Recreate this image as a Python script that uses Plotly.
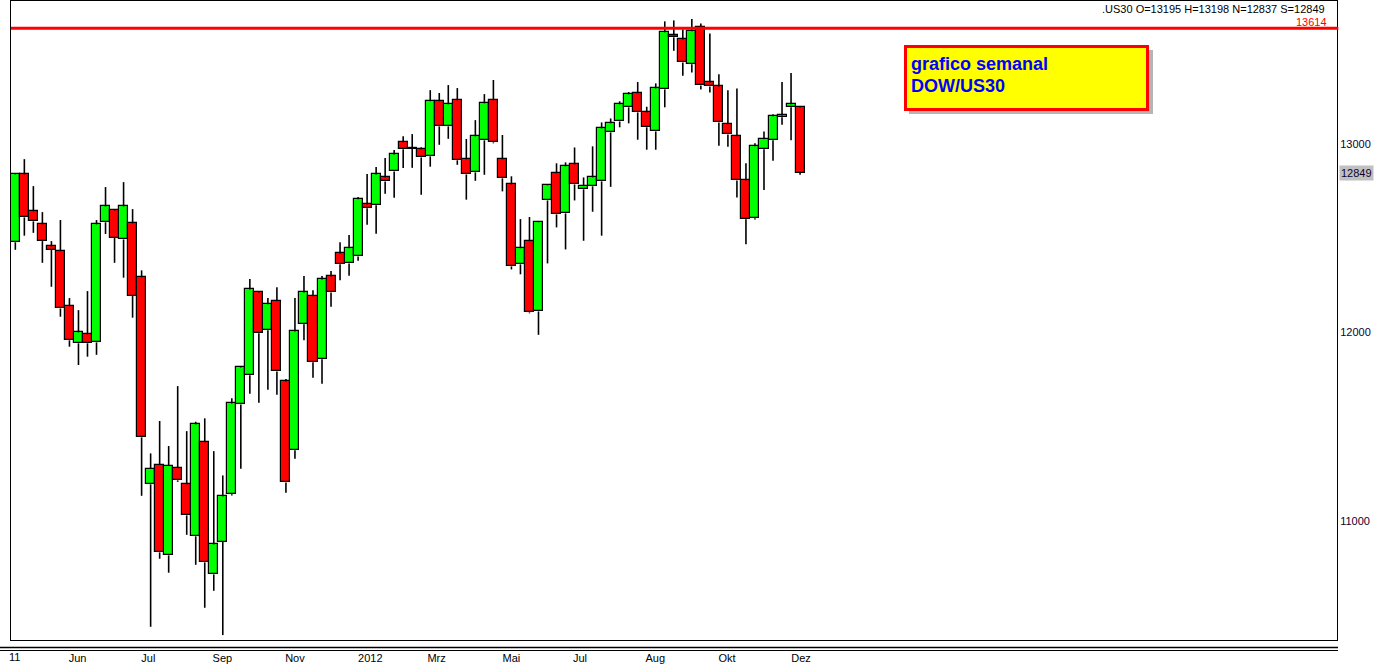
import plotly.graph_objects as go

# Weekly DOW/US30 candles (O, H, L, C)
opens = [12479, 12839, 12643, 12574, 12457, 12431, 12139, 11943, 11990, 11948,
         12585, 12648, 12494, 12579, 12293, 11195, 11299, 10818, 11283, 11195,
         10919, 11418, 10717, 10890, 11142, 11619, 11773, 12213, 12012, 12166,
         11741, 11375, 12044, 12192, 11858, 12298, 12420, 12367, 12404, 12680,
         12675, 12823, 12855, 13009, 12978, 12972, 12935, 13227, 13094, 13232,
         12919, 12850, 13020, 13232, 12919, 12786, 12362, 12484, 12112, 12701,
         12845, 12632, 12892, 12760, 12776, 12802, 13062, 13120, 13195, 13269,
         13168, 13067, 13290, 13577, 13555, 13423, 13620, 13327, 13306, 13105,
         13041, 12807, 12606, 12972, 13020, 13142, 13195, 13195]
highs = [12846, 12920, 12777, 12639, 12485, 12597, 12183, 12119, 12220, 12597,
         12772, 12655, 12798, 12655, 12330, 11359, 11531, 11398, 11716, 11477,
         11527, 11545, 11371, 11242, 11651, 11820, 12284, 12220, 12183, 12241,
         11753, 12183, 12300, 12224, 12300, 12326, 12479, 12517, 12719, 12841,
         12878, 12926, 12968, 13042, 13053, 12983, 13286, 13271, 13313, 13297,
         13027, 13127, 13265, 13340, 13048, 12829, 12602, 12613, 12590, 12785,
         12898, 12903, 12982, 12823, 12988, 13115, 13136, 13227, 13276, 13329,
         13198, 13322, 13651, 13656, 13608, 13663, 13640, 13587, 13370, 13285,
         13295, 12898, 13004, 13067, 13158, 13329, 13377, 13198]
lows = [12439, 12514, 12529, 12370, 12243, 12084, 11925, 11828, 11872, 11882,
        12523, 12370, 12291, 12079, 11134, 10439, 10800, 10726, 11208, 10927,
        10768, 10540, 10630, 10395, 11135, 11277, 11675, 11628, 11697, 11670,
        11150, 11330, 11959, 11760, 11728, 12137, 12278, 12301, 12381, 12572,
        12524, 12736, 12715, 12873, 12874, 12731, 12880, 12996, 13028, 12890,
        12705, 12805, 12837, 13004, 12749, 12335, 12309, 12102, 11988, 12367,
        12558, 12441, 12701, 12487, 12641, 12514, 12773, 13089, 13110, 13023,
        12970, 12970, 13195, 13495, 13362, 13380, 13290, 13274, 12991, 12986,
        12717, 12468, 12600, 12756, 12911, 13102, 13020, 12837]
closes = [12839, 12611, 12590, 12485, 12438, 12128, 11959, 12001, 11943, 12574,
          12669, 12503, 12669, 12194, 11444, 11277, 10834, 11293, 11216, 11030,
          11513, 10781, 10876, 11131, 11624, 11815, 12229, 11996, 12150, 11794,
          11205, 12006, 12213, 11842, 12282, 12213, 12362, 12447, 12707, 12659,
          12839, 12802, 12945, 12972, 12976, 12929, 13227, 13094, 13211, 12914,
          12839, 13041, 13216, 13009, 12818, 12351, 12447, 12107, 12585, 12781,
          12627, 12882, 12786, 12777, 12823, 13083, 13110, 13211, 13264, 13168,
          13089, 13295, 13593, 13566, 13433, 13598, 13311, 13306, 13115, 13051,
          12807, 12601, 12988, 13025, 13147, 13152, 13211, 12849]
week = list(range(len(opens)))

tick_weeks = [6.9, 14.75, 22.95, 31.0, 39.35, 46.7, 55.0, 62.6, 70.95, 78.9, 87.1]
tick_text = ["Jun", "Jul", "Sep", "Nov", "2012", "Mrz", "Mai", "Jul", "Aug", "Okt", "Dez"]
price_ticks = [11000, 12000, 13000]
resistance = 13614
header = ".US30 O=13195 H=13198 N=12837 S=12849"
last_close = closes[-1]
box_text = ["grafico semanal", "DOW/US30"]

W, H = 1377, 666
ML, MR, MT, MB = 11, 40, 1, 26
PW, PH = W - ML - MR, H - MT - MB


def px_x(px):
    return (px - ML) / PW


def px_y(py):
    return (MT + PH - py) / PH


fig = go.Figure()

# wicks (drawn as segments outside the bodies)
wx, wy = [], []
for i, o, h, l, c in zip(week, opens, highs, lows, closes):
    top, bot = max(o, c), min(o, c)
    wx += [i, i, None, i, i, None]
    wy += [top, h, None, bot, l, None]
fig.add_trace(go.Scatter(x=wx, y=wy, mode="lines", line=dict(color="black", width=1.6),
                         hoverinfo="skip", showlegend=False))

up = [i for i in week if closes[i] >= opens[i]]
dn = [i for i in week if closes[i] < opens[i]]
for idx, col in ((up, "#00ff00"), (dn, "#ff0000")):
    fig.add_trace(go.Bar(
        x=[week[i] for i in idx],
        base=[min(opens[i], closes[i]) for i in idx],
        y=[max(abs(closes[i] - opens[i]), 2) for i in idx],
        width=1.0,
        marker=dict(color=col, line=dict(color="black", width=1.2)),
        showlegend=False, hoverinfo="skip"))

font_main = "Liberation Sans, Arial, sans-serif"

shapes = [
    # resistance line
    dict(type="line", xref="paper", yref="y", x0=0, x1=1.001, y0=resistance, y1=resistance,
         line=dict(color="#ff0000", width=3)),
    # double line under plot
    dict(type="line", xref="paper", yref="paper", x0=px_x(0), x1=px_x(1338),
         y0=px_y(647.5), y1=px_y(647.5), line=dict(color="black", width=1.5)),
    dict(type="line", xref="paper", yref="paper", x0=px_x(0), x1=px_x(1338),
         y0=px_y(650.5), y1=px_y(650.5), line=dict(color="black", width=1)),
    # label box shadow and box
    dict(type="rect", xref="paper", yref="paper", x0=px_x(909), x1=px_x(1153),
         y0=px_y(50), y1=px_y(114), fillcolor="rgba(120,120,120,0.55)", line=dict(width=0)),
    dict(type="rect", xref="paper", yref="paper", x0=px_x(905.5), x1=px_x(1147.5),
         y0=px_y(46.5), y1=px_y(109.5), fillcolor="#ffff00", line=dict(color="#ff0000", width=3)),
]

annotations = [
    dict(text=header, xref="paper", yref="paper", x=px_x(1327), y=px_y(9.5),
         xanchor="right", yanchor="middle", showarrow=False,
         font=dict(family=font_main, size=11, color="black")),
    dict(text=str(resistance), xref="paper", yref="paper", x=px_x(1329), y=px_y(22),
         xanchor="right", yanchor="middle", showarrow=False,
         font=dict(family=font_main, size=11, color="#ff0000")),
    dict(text=str(last_close), xref="paper", yref="y", x=px_x(1339), y=last_close,
         xanchor="left", yanchor="middle", showarrow=False, bgcolor="#c0c0c0", borderpad=1,
         font=dict(family=font_main, size=11, color="#100030")),
    dict(text="11", xref="paper", yref="paper", x=px_x(7), y=px_y(657),
         xanchor="left", yanchor="middle", showarrow=False,
         font=dict(family=font_main, size=11, color="black")),
    dict(text="<b>%s</b>" % box_text[0], xref="paper", yref="paper", x=px_x(909), y=px_y(64),
         xanchor="left", yanchor="middle", showarrow=False,
         font=dict(family=font_main, size=18, color="#0000ff")),
    dict(text="<b>%s</b>" % box_text[1], xref="paper", yref="paper", x=px_x(909), y=px_y(86),
         xanchor="left", yanchor="middle", showarrow=False,
         font=dict(family=font_main, size=18, color="#0000ff")),
]

fig.update_layout(
    width=W, height=H,
    margin=dict(l=ML, r=MR, t=MT, b=MB, pad=0),
    paper_bgcolor="white", plot_bgcolor="white",
    barmode="overlay", bargap=0,
    showlegend=False,
    shapes=shapes, annotations=annotations,
    xaxis=dict(range=[-0.48, -0.48 + PW / 9.02], showgrid=False, zeroline=False,
               showline=True, mirror=True, linecolor="black", linewidth=1,
               tickmode="array", tickvals=tick_weeks, ticktext=tick_text, ticks="",
               ticklabelstandoff=8,
               tickfont=dict(family=font_main, size=11, color="black"), fixedrange=True),
    yaxis=dict(range=[10369, 13759], side="right", showgrid=False, zeroline=False,
               showline=True, mirror=True, linecolor="black", linewidth=1,
               tickmode="array", tickvals=price_ticks,
               ticktext=[str(v) for v in price_ticks], ticks="",
               tickfont=dict(family=font_main, size=11, color="#100030"), fixedrange=True),
)

fig.write_html("out.html", config={"displayModeBar": False},
               post_script="document.body.style.margin='0';document.body.style.overflow='hidden';")
